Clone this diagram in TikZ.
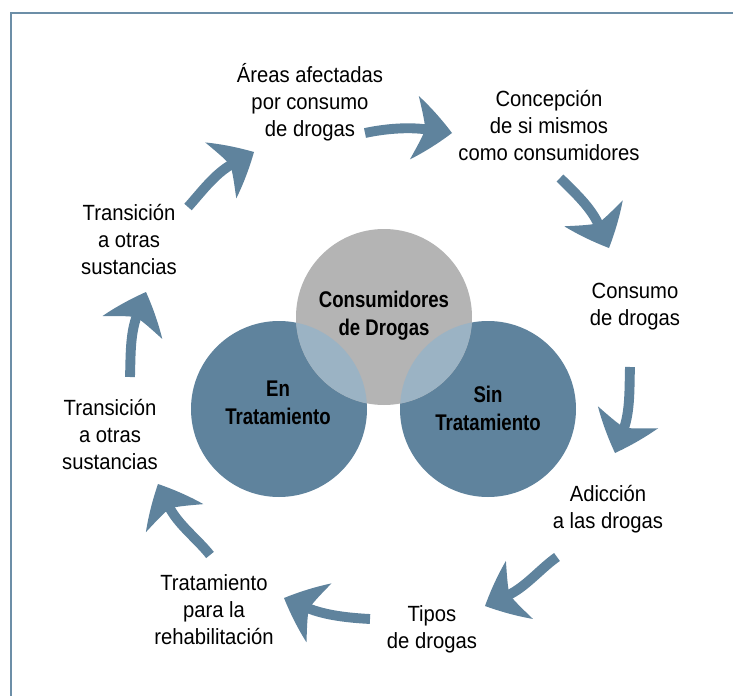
\documentclass[tikz,border=0pt]{standalone}
\usepackage{fontspec}
\setmainfont{Liberation Sans}[FakeStretch=0.92]
\newfontfamily\circfont{Liberation Sans}[FakeStretch=0.82]
\usetikzlibrary{positioning}

\definecolor{steel}{RGB}{95,131,157}
\definecolor{ashgray}{RGB}{180,180,180}
\definecolor{paleblue}{RGB}{155,179,196}
\definecolor{framecol}{RGB}{108,142,167}

\tikzset{
  cycletext/.style={align=center,inner sep=0.75pt,font=\fontsize{16.5}{20.25}\selectfont},
  circtext/.style={align=center,inner sep=0.75pt,font=\circfont\bfseries\fontsize{17}{21}\selectfont},
  flowshaft/.style={draw=steel,line width=7.4pt},
  flowhead/.style={fill=steel},
}

% curved arrow: start, start angle, tip, tip angle
\newcommand{\cyclearrow}[4]{%
  \begin{scope}[shift={(#3)},rotate=#4]
    \fill[flowhead] (0,0) .. controls (-12,12) and (-25,23) .. (-38,32)
      .. controls (-33,19) and (-29,9) .. (-27,0)
      .. controls (-29,-9) and (-33,-19) .. (-38,-32)
      .. controls (-25,-23) and (-12,-12) .. (0,0) -- cycle;
    \coordinate (headbase) at (-25,0);
  \end{scope}
  \draw[flowshaft] (#1) .. controls +(#2:20) and +(#4+180:20) .. (headbase);
}

\begin{document}
\begin{tikzpicture}[x=0.75pt,y=0.75pt,yscale=-1,xscale=1]
\useasboundingbox (0,0) rectangle (733,696);

%Frame
\draw[framecol,line width=1.9pt] (11,696) -- (11,13) -- (733,13);

%Circles
\coordinate (consc) at (384,317);
\coordinate (entc) at (279,409);
\coordinate (sinc) at (488,409);
\fill[steel] (entc) circle (88);
\fill[steel] (sinc) circle (88);
\fill[ashgray] (consc) circle (88);
\begin{scope}
  \clip (consc) circle (88);
  \fill[paleblue] (entc) circle (88);
  \fill[paleblue] (sinc) circle (88);
\end{scope}

% Text Node
\node[circtext] (cons) at (384,316) {Consumidores\\de Drogas};
% Text Node
\node[circtext] (entrat) at (278,403) {En\\Tratamiento};
% Text Node
\node[circtext] (sintrat) at (488,408) {Sin\\Tratamiento};

% Text Node
\node[cycletext] (areas) at (310,102) {Áreas afectadas\\por consumo\\de drogas};
% Text Node
\node[cycletext] (concep) at (549,126) {Concepción\\de si mismos\\como consumidores};
% Text Node
\node[cycletext] (consumo) at (635,307) {Consumo\\de drogas};
% Text Node
\node[cycletext] (adiccion) at (608,509) {Adicción\\a las drogas};
% Text Node
\node[cycletext] (tipos) at (432,629) {Tipos\\de drogas};
% Text Node
\node[cycletext] (tratam) at (214,610) {Tratamiento\\para la\\rehabilitación};
% Text Node
\node[cycletext] (transb) at (110,435) {Transición\\a otras\\sustancias};
% Text Node
\node[cycletext] (transa) at (129,240) {Transición\\a otras\\sustancias};

%Arrows
\coordinate (s1) at (365,133); \coordinate (t1) at (452,133);
\coordinate (s2) at (560,178); \coordinate (t2) at (609,248);
\coordinate (s3) at (630,367); \coordinate (t3) at (615,453);
\coordinate (s4) at (557,557); \coordinate (t4) at (485,606);
\coordinate (s5) at (370,619); \coordinate (t5) at (284,598);
\coordinate (s6) at (210,555); \coordinate (t6) at (158,484);
\coordinate (s7) at (130,377); \coordinate (t7) at (146,292);
\coordinate (s8) at (188,207); \coordinate (t8) at (254,152);
\cyclearrow{s1}{-12}{t1}{8}
\cyclearrow{s2}{45}{t2}{66}
\cyclearrow{s3}{92}{t3}{110}
\cyclearrow{s4}{145}{t4}{155}
\cyclearrow{s5}{183}{t5}{203}
\cyclearrow{s6}{232}{t6}{244}
\cyclearrow{s7}{272}{t7}{291}
\cyclearrow{s8}{312}{t8}{331}

\end{tikzpicture}
\end{document}
